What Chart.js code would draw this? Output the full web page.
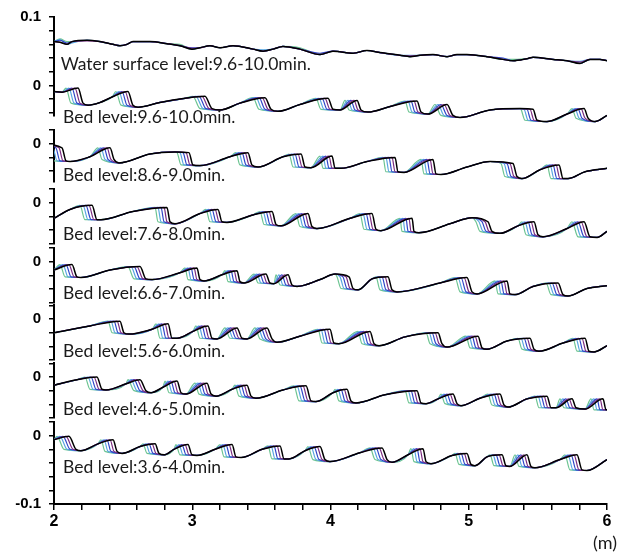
<!DOCTYPE html>
<html>
<head>
<meta charset="utf-8">
<script src="https://cdn.jsdelivr.net/npm/chart.js@4.4.1/dist/chart.umd.min.js"></script>
<style>
  html, body { margin: 0; padding: 0; background: #fff; }
  #wrap { width: 628px; height: 558px; }
</style>
</head>
<body>
<div id="wrap"><canvas id="profiles" width="628" height="558"></canvas></div>
<script>
// one line per time step, latest first: 10.0, 9.9, 9.8, 9.7, 9.6 min
const lineNames = ['t4', 't3', 't2', 't1', 't0'];
const lineColors = ['#000000', '#7a2c80', '#2f45c8', '#58a6e0', '#6cc491'];

const panelLabels = [
  'Water surface level:9.6-10.0min.',
  'Bed level:9.6-10.0min.',
  'Bed level:8.6-9.0min.',
  'Bed level:7.6-8.0min.',
  'Bed level:6.6-7.0min.',
  'Bed level:5.6-6.0min.',
  'Bed level:4.6-5.0min.',
  'Bed level:3.6-4.0min.'
];

// water surface (m)
const waterX = [2.000,2.043,2.094,2.130,2.239,2.333,2.427,2.477,2.528,2.571,2.694,2.817,2.911,2.998,3.056,3.128,3.201,3.295,3.439,3.512,3.584,3.656,3.779,3.924,4.018,4.163,4.264,4.358,4.503,4.575,4.647,4.741,4.843,4.915,4.987,5.132,5.248,5.320,5.421,5.465,5.609,5.711,5.805,5.877,5.949,6.000];
const waterY = [
  [0.064,0.063,0.060,0.064,0.066,0.064,0.060,0.058,0.060,0.064,0.064,0.061,0.058,0.053,0.055,0.058,0.055,0.058,0.053,0.050,0.053,0.057,0.053,0.045,0.050,0.047,0.051,0.048,0.044,0.042,0.044,0.045,0.042,0.045,0.045,0.042,0.038,0.036,0.039,0.041,0.038,0.036,0.032,0.038,0.038,0.036],
  [0.064,0.063,0.060,0.064,0.065,0.064,0.060,0.058,0.060,0.064,0.064,0.061,0.058,0.054,0.055,0.058,0.055,0.058,0.053,0.050,0.053,0.057,0.053,0.045,0.050,0.047,0.051,0.048,0.044,0.043,0.044,0.045,0.042,0.045,0.045,0.042,0.038,0.036,0.039,0.041,0.038,0.036,0.034,0.038,0.038,0.036],
  [0.064,0.066,0.062,0.064,0.066,0.064,0.060,0.058,0.060,0.064,0.064,0.061,0.058,0.055,0.055,0.058,0.055,0.058,0.053,0.050,0.053,0.057,0.053,0.047,0.050,0.047,0.051,0.048,0.044,0.042,0.044,0.045,0.042,0.045,0.045,0.042,0.040,0.036,0.039,0.041,0.038,0.036,0.032,0.038,0.038,0.036],
  [0.064,0.067,0.060,0.062,0.066,0.064,0.060,0.058,0.060,0.064,0.064,0.061,0.058,0.053,0.055,0.058,0.055,0.058,0.053,0.052,0.053,0.057,0.053,0.045,0.050,0.047,0.051,0.048,0.044,0.044,0.044,0.045,0.042,0.045,0.045,0.042,0.038,0.036,0.039,0.041,0.038,0.036,0.035,0.038,0.038,0.036],
  [0.064,0.068,0.064,0.064,0.066,0.064,0.060,0.058,0.060,0.064,0.064,0.061,0.060,0.053,0.055,0.058,0.055,0.058,0.053,0.050,0.053,0.057,0.055,0.045,0.050,0.047,0.051,0.048,0.044,0.042,0.044,0.045,0.042,0.045,0.045,0.042,0.038,0.038,0.039,0.041,0.038,0.036,0.032,0.038,0.038,0.036]
];

// bed level 9.6-10.0 min
const bed96Y = [-0.009,-0.010,-0.004,-0.026,-0.029,-0.025,-0.017,-0.009,-0.029,-0.032,-0.025,-0.019,-0.016,-0.034,-0.036,-0.026,-0.018,-0.035,-0.038,-0.028,-0.019,-0.035,-0.036,-0.022,-0.036,-0.039,-0.031,-0.023,-0.039,-0.042,-0.028,-0.044,-0.047,-0.036,-0.034,-0.035,-0.051,-0.053,-0.042,-0.034,-0.048,-0.053,-0.044];
const bed96X = [
  [2.000,2.058,2.174,2.210,2.246,2.333,2.420,2.535,2.571,2.608,2.767,2.948,3.092,3.143,3.201,3.345,3.526,3.570,3.620,3.779,3.982,4.018,4.069,4.192,4.221,4.271,4.430,4.626,4.655,4.705,4.843,4.886,4.937,5.154,5.371,5.465,5.494,5.566,5.711,5.834,5.863,5.913,6.000],
  [2.000,2.058,2.152,2.188,2.246,2.333,2.420,2.514,2.550,2.608,2.767,2.948,3.071,3.121,3.201,3.345,3.505,3.548,3.620,3.779,3.960,3.996,4.069,4.170,4.199,4.271,4.430,4.604,4.633,4.705,4.821,4.864,4.937,5.154,5.371,5.443,5.472,5.566,5.711,5.812,5.841,5.913,6.000],
  [2.000,2.058,2.130,2.166,2.246,2.333,2.420,2.492,2.528,2.608,2.767,2.948,3.049,3.099,3.201,3.345,3.483,3.526,3.620,3.779,3.939,3.975,4.069,4.148,4.177,4.271,4.430,4.582,4.611,4.705,4.799,4.843,4.937,5.154,5.371,5.421,5.450,5.566,5.711,5.790,5.819,5.913,6.000],
  [2.000,2.058,2.108,2.145,2.246,2.333,2.420,2.470,2.506,2.608,2.767,2.948,3.027,3.078,3.201,3.345,3.461,3.505,3.620,3.779,3.917,3.953,4.069,4.127,4.156,4.271,4.430,4.561,4.590,4.705,4.778,4.821,4.937,5.154,5.371,5.400,5.429,5.566,5.711,5.769,5.798,5.913,6.000],
  [2.000,2.058,2.087,2.123,2.246,2.333,2.420,2.448,2.485,2.608,2.767,2.948,3.005,3.056,3.201,3.345,3.439,3.483,3.620,3.779,3.895,3.931,4.069,4.105,4.134,4.271,4.430,4.539,4.568,4.705,4.756,4.799,4.937,5.154,5.371,5.378,5.407,5.566,5.711,5.747,5.776,5.913,6.000]
];

// bed level 8.6-9.0 min
const bed86Y = [-0.001,-0.006,-0.025,-0.026,-0.019,-0.006,-0.023,-0.028,-0.015,-0.012,-0.013,-0.031,-0.032,-0.019,-0.013,-0.031,-0.034,-0.019,-0.015,-0.034,-0.035,-0.018,-0.036,-0.036,-0.026,-0.020,-0.041,-0.042,-0.023,-0.044,-0.045,-0.034,-0.026,-0.029,-0.048,-0.051,-0.038,-0.031,-0.051,-0.051,-0.041,-0.036];
const bed86X = [
  [1.942,2.058,2.087,2.116,2.260,2.405,2.434,2.470,2.694,2.875,2.976,3.005,3.056,3.273,3.403,3.432,3.476,3.656,3.787,3.816,3.859,4.011,4.033,4.076,4.264,4.467,4.488,4.532,4.741,4.763,4.799,4.987,5.154,5.320,5.349,5.385,5.515,5.653,5.682,5.718,5.841,6.000],
  [1.942,2.036,2.065,2.116,2.260,2.383,2.412,2.470,2.694,2.875,2.955,2.984,3.056,3.273,3.382,3.411,3.476,3.656,3.765,3.794,3.859,3.989,4.011,4.076,4.264,4.445,4.467,4.532,4.720,4.741,4.799,4.987,5.154,5.298,5.327,5.385,5.515,5.631,5.660,5.718,5.841,6.000],
  [1.942,2.014,2.043,2.116,2.260,2.362,2.391,2.470,2.694,2.875,2.933,2.962,3.056,3.273,3.360,3.389,3.476,3.656,3.743,3.772,3.859,3.967,3.989,4.076,4.264,4.423,4.445,4.532,4.698,4.720,4.799,4.987,5.154,5.277,5.306,5.385,5.515,5.609,5.638,5.718,5.841,6.000],
  [1.942,1.993,2.022,2.116,2.260,2.340,2.369,2.470,2.694,2.875,2.911,2.940,3.056,3.273,3.338,3.367,3.476,3.656,3.722,3.750,3.859,3.946,3.967,4.076,4.264,4.401,4.423,4.532,4.676,4.698,4.799,4.987,5.154,5.255,5.284,5.385,5.515,5.588,5.617,5.718,5.841,6.000],
  [1.942,1.971,2.000,2.116,2.260,2.318,2.347,2.470,2.694,2.875,2.890,2.919,3.056,3.273,3.316,3.345,3.476,3.656,3.700,3.729,3.859,3.924,3.946,4.076,4.264,4.380,4.401,4.532,4.655,4.676,4.799,4.987,5.154,5.233,5.262,5.385,5.515,5.566,5.595,5.718,5.841,6.000]
];

// bed level 7.6-8.0 min
const bed76Y = [-0.023,-0.010,-0.004,-0.025,-0.025,-0.013,-0.007,-0.028,-0.031,-0.016,-0.010,-0.028,-0.029,-0.018,-0.013,-0.032,-0.034,-0.016,-0.035,-0.038,-0.023,-0.016,-0.039,-0.041,-0.023,-0.042,-0.044,-0.031,-0.022,-0.028,-0.042,-0.045,-0.034,-0.028,-0.047,-0.050,-0.038,-0.028,-0.050,-0.051,-0.042];
const bed76X = [
  [2.000,2.116,2.275,2.311,2.340,2.571,2.817,2.839,2.875,3.056,3.186,3.215,3.251,3.439,3.577,3.606,3.642,3.837,3.866,3.902,4.141,4.300,4.329,4.365,4.590,4.604,4.640,4.864,5.024,5.139,5.168,5.226,5.356,5.472,5.501,5.537,5.711,5.834,5.877,5.928,6.000],
  [2.000,2.116,2.253,2.289,2.340,2.571,2.796,2.817,2.875,3.056,3.165,3.194,3.251,3.439,3.555,3.584,3.642,3.816,3.844,3.902,4.141,4.279,4.307,4.365,4.568,4.582,4.640,4.864,5.024,5.118,5.146,5.226,5.356,5.450,5.479,5.537,5.711,5.812,5.855,5.928,6.000],
  [2.000,2.116,2.231,2.268,2.340,2.571,2.774,2.796,2.875,3.056,3.143,3.172,3.251,3.439,3.533,3.562,3.642,3.794,3.823,3.902,4.141,4.257,4.286,4.365,4.546,4.561,4.640,4.864,5.024,5.096,5.125,5.226,5.356,5.429,5.458,5.537,5.711,5.790,5.834,5.928,6.000],
  [2.000,2.116,2.210,2.246,2.340,2.571,2.752,2.774,2.875,3.056,3.121,3.150,3.251,3.439,3.512,3.541,3.642,3.772,3.801,3.902,4.141,4.235,4.264,4.365,4.524,4.539,4.640,4.864,5.024,5.074,5.103,5.226,5.356,5.407,5.436,5.537,5.711,5.769,5.812,5.928,6.000],
  [2.000,2.116,2.188,2.224,2.340,2.571,2.731,2.752,2.875,3.056,3.099,3.128,3.251,3.439,3.490,3.519,3.642,3.750,3.779,3.902,4.141,4.213,4.242,4.365,4.503,4.517,4.640,4.864,5.024,5.052,5.081,5.226,5.356,5.385,5.414,5.537,5.711,5.747,5.790,5.928,6.000]
];

// bed level 6.6-7.0 min
const bed66Y = [-0.012,-0.004,-0.022,-0.023,-0.012,-0.007,-0.025,-0.026,-0.016,-0.009,-0.026,-0.028,-0.019,-0.013,-0.029,-0.031,-0.018,-0.031,-0.032,-0.019,-0.034,-0.036,-0.026,-0.018,-0.022,-0.039,-0.041,-0.025,-0.022,-0.041,-0.044,-0.031,-0.023,-0.044,-0.047,-0.028,-0.047,-0.048,-0.036,-0.031,-0.048,-0.050,-0.039,-0.035];
const bed66X = [
  [2.000,2.130,2.166,2.195,2.405,2.622,2.665,2.709,2.911,3.034,3.056,3.085,3.215,3.324,3.345,3.374,3.533,3.562,3.591,3.693,3.722,3.758,3.924,4.033,4.134,4.163,4.199,4.300,4.416,4.445,4.481,4.792,4.987,5.024,5.060,5.277,5.298,5.335,5.465,5.646,5.682,5.718,5.855,6.000],
  [2.000,2.108,2.145,2.195,2.405,2.600,2.644,2.709,2.911,3.013,3.034,3.085,3.215,3.302,3.324,3.374,3.512,3.541,3.591,3.671,3.700,3.758,3.924,4.033,4.112,4.141,4.199,4.300,4.394,4.423,4.481,4.792,4.966,5.002,5.060,5.255,5.277,5.335,5.465,5.624,5.660,5.718,5.855,6.000],
  [2.000,2.087,2.123,2.195,2.405,2.579,2.622,2.709,2.911,2.991,3.013,3.085,3.215,3.280,3.302,3.374,3.490,3.519,3.591,3.649,3.678,3.758,3.924,4.033,4.090,4.119,4.199,4.300,4.373,4.401,4.481,4.792,4.944,4.980,5.060,5.233,5.255,5.335,5.465,5.602,5.638,5.718,5.855,6.000],
  [2.000,2.065,2.101,2.195,2.405,2.557,2.600,2.709,2.911,2.969,2.991,3.085,3.215,3.259,3.280,3.374,3.468,3.497,3.591,3.627,3.656,3.758,3.924,4.033,4.069,4.098,4.199,4.300,4.351,4.380,4.481,4.792,4.922,4.958,5.060,5.212,5.233,5.335,5.465,5.580,5.617,5.718,5.855,6.000],
  [2.000,2.043,2.080,2.195,2.405,2.535,2.579,2.709,2.911,2.948,2.969,3.085,3.215,3.237,3.259,3.374,3.447,3.476,3.591,3.606,3.635,3.758,3.924,4.033,4.047,4.076,4.199,4.300,4.329,4.358,4.481,4.792,4.901,4.937,5.060,5.190,5.212,5.335,5.465,5.559,5.595,5.718,5.855,6.000]
];

// bed level 5.6-6.0 min
const bed56Y = [-0.020,-0.010,-0.003,-0.020,-0.022,-0.015,-0.007,-0.028,-0.028,-0.018,-0.010,-0.028,-0.029,-0.013,-0.028,-0.029,-0.013,-0.029,-0.034,-0.025,-0.015,-0.035,-0.036,-0.018,-0.036,-0.039,-0.026,-0.020,-0.036,-0.041,-0.025,-0.042,-0.044,-0.032,-0.028,-0.044,-0.047,-0.035,-0.028,-0.047,-0.048,-0.039];
const bed56X = [
  [2.000,2.260,2.477,2.506,2.542,2.709,2.825,2.854,2.890,3.005,3.114,3.143,3.179,3.324,3.360,3.396,3.541,3.577,3.613,3.779,3.996,4.025,4.061,4.286,4.315,4.351,4.539,4.778,4.806,4.843,5.067,5.096,5.132,5.277,5.443,5.472,5.508,5.682,5.841,5.870,5.906,6.000],
  [2.000,2.260,2.456,2.485,2.542,2.709,2.803,2.832,2.890,3.005,3.092,3.121,3.179,3.302,3.338,3.396,3.519,3.555,3.613,3.779,3.975,4.004,4.061,4.264,4.293,4.351,4.539,4.756,4.785,4.843,5.045,5.074,5.132,5.277,5.421,5.450,5.508,5.682,5.819,5.848,5.906,6.000],
  [2.000,2.260,2.434,2.463,2.542,2.709,2.781,2.810,2.890,3.005,3.071,3.099,3.179,3.280,3.316,3.396,3.497,3.533,3.613,3.779,3.953,3.982,4.061,4.242,4.271,4.351,4.539,4.734,4.763,4.843,5.024,5.052,5.132,5.277,5.400,5.429,5.508,5.682,5.797,5.826,5.906,6.000],
  [2.000,2.260,2.412,2.441,2.542,2.709,2.760,2.788,2.890,3.005,3.049,3.078,3.179,3.259,3.295,3.396,3.476,3.512,3.613,3.779,3.931,3.960,4.061,4.221,4.250,4.351,4.539,4.713,4.741,4.843,5.002,5.031,5.132,5.277,5.378,5.407,5.508,5.682,5.776,5.805,5.906,6.000],
  [2.000,2.260,2.391,2.420,2.542,2.709,2.738,2.767,2.890,3.005,3.027,3.056,3.179,3.237,3.273,3.396,3.454,3.490,3.613,3.779,3.910,3.939,4.061,4.199,4.228,4.351,4.539,4.691,4.720,4.843,4.980,5.009,5.132,5.277,5.356,5.385,5.508,5.682,5.754,5.783,5.906,6.000]
];

// bed level 4.6-5.0 min
const bed46Y = [-0.012,-0.004,0.000,-0.018,-0.019,-0.010,-0.004,-0.020,-0.023,-0.015,-0.006,-0.023,-0.025,-0.009,-0.025,-0.028,-0.018,-0.012,-0.028,-0.031,-0.019,-0.013,-0.035,-0.036,-0.023,-0.018,-0.035,-0.038,-0.026,-0.020,-0.038,-0.039,-0.032,-0.025,-0.039,-0.042,-0.031,-0.025,-0.041,-0.044,-0.032,-0.028,-0.045,-0.045,-0.032,-0.045,-0.047,-0.032,-0.048,-0.048];
const bed46X = [
  [2.000,2.166,2.311,2.347,2.376,2.521,2.622,2.665,2.702,2.788,2.890,2.919,2.955,3.107,3.136,3.172,3.288,3.396,3.425,3.461,3.656,3.823,3.859,3.895,4.018,4.119,4.148,4.184,4.394,4.626,4.655,4.691,4.778,4.886,4.915,4.944,5.081,5.226,5.255,5.284,5.421,5.566,5.595,5.631,5.747,5.776,5.841,5.971,5.993,6.015],
  [2.000,2.166,2.289,2.326,2.376,2.521,2.600,2.644,2.702,2.788,2.868,2.897,2.955,3.085,3.114,3.172,3.288,3.374,3.403,3.461,3.656,3.801,3.837,3.895,4.018,4.098,4.127,4.184,4.394,4.604,4.633,4.691,4.778,4.864,4.893,4.944,5.081,5.204,5.233,5.284,5.421,5.544,5.573,5.631,5.725,5.754,5.841,5.949,5.971,6.015],
  [2.000,2.166,2.268,2.304,2.376,2.521,2.579,2.622,2.702,2.788,2.846,2.875,2.955,3.063,3.092,3.172,3.288,3.353,3.382,3.461,3.656,3.779,3.816,3.895,4.018,4.076,4.105,4.184,4.394,4.582,4.611,4.691,4.778,4.843,4.872,4.944,5.081,5.183,5.212,5.284,5.421,5.523,5.552,5.631,5.703,5.732,5.841,5.928,5.949,6.015],
  [2.000,2.166,2.246,2.282,2.376,2.521,2.557,2.600,2.702,2.788,2.825,2.854,2.955,3.042,3.071,3.172,3.288,3.331,3.360,3.461,3.656,3.758,3.794,3.895,4.018,4.054,4.083,4.184,4.394,4.561,4.590,4.691,4.778,4.821,4.850,4.944,5.081,5.161,5.190,5.284,5.421,5.501,5.530,5.631,5.682,5.711,5.841,5.906,5.928,6.015],
  [2.000,2.166,2.224,2.260,2.376,2.521,2.535,2.579,2.702,2.788,2.803,2.832,2.955,3.020,3.049,3.172,3.288,3.309,3.338,3.461,3.656,3.736,3.772,3.895,4.018,4.033,4.061,4.184,4.394,4.539,4.568,4.691,4.778,4.799,4.828,4.944,5.081,5.139,5.168,5.284,5.421,5.479,5.508,5.631,5.660,5.689,5.841,5.884,5.906,6.015]
];

// bed level 3.6-4.0 min
const bed36Y = [-0.006,-0.001,-0.020,-0.022,-0.012,-0.006,-0.023,-0.026,-0.016,-0.012,-0.026,-0.028,-0.020,-0.013,-0.028,-0.029,-0.020,-0.013,-0.031,-0.032,-0.020,-0.015,-0.034,-0.034,-0.022,-0.016,-0.035,-0.038,-0.025,-0.018,-0.035,-0.039,-0.028,-0.019,-0.038,-0.041,-0.029,-0.026,-0.042,-0.044,-0.031,-0.028,-0.044,-0.045,-0.028,-0.045,-0.047,-0.035,-0.028,-0.050,-0.051,-0.035];
const bed36X = [
  [2.000,2.108,2.159,2.195,2.318,2.427,2.456,2.492,2.622,2.731,2.760,2.796,2.868,2.969,2.998,3.034,3.165,3.288,3.316,3.353,3.505,3.635,3.664,3.700,3.816,3.924,3.960,3.996,4.213,4.373,4.409,4.445,4.561,4.669,4.691,4.727,4.879,4.987,5.016,5.045,5.132,5.241,5.269,5.298,5.421,5.450,5.479,5.660,5.783,5.819,5.855,6.000],
  [2.000,2.087,2.137,2.195,2.318,2.405,2.434,2.492,2.622,2.709,2.738,2.796,2.868,2.948,2.976,3.034,3.165,3.266,3.295,3.353,3.505,3.613,3.642,3.700,3.816,3.902,3.939,3.996,4.213,4.351,4.387,4.445,4.561,4.647,4.669,4.727,4.879,4.966,4.995,5.045,5.132,5.219,5.248,5.298,5.400,5.429,5.479,5.660,5.761,5.797,5.855,6.000],
  [2.000,2.065,2.116,2.195,2.318,2.383,2.412,2.492,2.622,2.687,2.716,2.796,2.868,2.926,2.955,3.034,3.165,3.244,3.273,3.353,3.505,3.591,3.620,3.700,3.816,3.881,3.917,3.996,4.213,4.329,4.365,4.445,4.561,4.626,4.647,4.727,4.879,4.944,4.973,5.045,5.132,5.197,5.226,5.298,5.378,5.407,5.479,5.660,5.740,5.776,5.855,6.000],
  [2.000,2.043,2.094,2.195,2.318,2.362,2.391,2.492,2.622,2.665,2.694,2.796,2.868,2.904,2.933,3.034,3.165,3.222,3.251,3.353,3.505,3.570,3.599,3.700,3.816,3.859,3.895,3.996,4.213,4.307,4.344,4.445,4.561,4.604,4.626,4.727,4.879,4.922,4.951,5.045,5.132,5.175,5.204,5.298,5.356,5.385,5.479,5.660,5.718,5.754,5.855,6.000],
  [2.000,2.022,2.072,2.195,2.318,2.340,2.369,2.492,2.622,2.644,2.673,2.796,2.868,2.882,2.911,3.034,3.165,3.201,3.230,3.353,3.505,3.548,3.577,3.700,3.816,3.837,3.873,3.996,4.213,4.286,4.322,4.445,4.561,4.582,4.604,4.727,4.879,4.901,4.929,5.045,5.132,5.154,5.183,5.298,5.335,5.363,5.479,5.660,5.696,5.732,5.855,6.000]
];

// ---- build datasets ----
const datasets = [];
function addProfile(name, xsFor, ysFor, axisId) {
  lineNames.forEach((t, k) => {
    const xs = xsFor(k), ys = ysFor(k);
    datasets.push({
      label: name + ' ' + t,
      data: xs.map((x, i) => ({ x: x, y: ys[i] })),
      yAxisID: axisId,
      borderColor: lineColors[k],
      borderWidth: k === 0 ? 1.5 : 1.2,
      pointRadius: 0,
      cubicInterpolationMode: 'monotone',
      fill: false,
      // panels share one plot area; only clip at the left/right ends
      clip: { left: 0, right: 0, top: 40, bottom: 40 },
      order: k
    });
  });
}
addProfile('water', k => waterX, k => waterY[k], 'yA');
addProfile('bed96', k => bed96X[k], k => bed96Y, 'yA');
addProfile('bed86', k => bed86X[k], k => bed86Y, 'yB');
addProfile('bed76', k => bed76X[k], k => bed76Y, 'yC');
addProfile('bed66', k => bed66X[k], k => bed66Y, 'yD');
addProfile('bed56', k => bed56X[k], k => bed56Y, 'yE');
addProfile('bed46', k => bed46X[k], k => bed46Y, 'yF');
addProfile('bed36', k => bed36X[k], k => bed36Y, 'yG');

// ---- axes ----
const tickFont = { family: "'Liberation Sans', Arial, sans-serif", size: 15, weight: 'bold' };
const fixWidth = s => { s.width = 54; };

function panelAxis(min, max, weight) {
  return {
    type: 'linear', position: 'left', stack: 'left', stackWeight: max - min, weight: weight,
    min: min, max: max,
    border: { display: true, color: '#000', width: 2 },
    grid: { display: true, drawOnChartArea: false, drawTicks: true, tickLength: 5, color: '#000', lineWidth: 1.5 },
    ticks: {
      stepSize: 0.02, includeBounds: false, autoSkip: false, padding: 8, color: '#000', font: tickFont,
      callback: v => Math.abs(v) < 1e-9 ? '0' : Math.abs(v - 0.1) < 1e-9 ? '0.1' : Math.abs(v + 0.1) < 1e-9 ? '-0.1' : ''
    },
    afterFit: fixWidth
  };
}
function gapAxis(size, weight) {
  return {
    type: 'linear', position: 'left', stack: 'left', stackWeight: size, weight: weight,
    min: 0, max: 1, display: true,
    border: { display: false }, grid: { display: false }, ticks: { display: false },
    afterFit: fixWidth
  };
}

// panel labels drawn in data coordinates of each panel
const labelPlugin = {
  id: 'panelLabels',
  afterDatasetsDraw(chart) {
    const ctx = chart.ctx, xs = chart.scales.x;
    const axes = ['yA', 'yA', 'yB', 'yC', 'yD', 'yE', 'yF', 'yG'];
    ctx.save();
    ctx.fillStyle = '#1a1a1a';
    ctx.font = "17.5px Lato, 'Open Sans', sans-serif";
    ctx.textBaseline = 'alphabetic';
    ctx.textAlign = 'left';
    panelLabels.forEach((t, i) => {
      const ys = chart.scales[axes[i]];
      const x = xs.getPixelForValue(i === 0 ? 2.048 : 2.065);
      const y = ys.getPixelForValue(i === 0 ? 0.022 : -0.055);
      ctx.fillText(t, x, y);
    });
    ctx.font = "18px Lato, 'Open Sans', sans-serif";
    ctx.textAlign = 'right';
    ctx.fillText('(m)', xs.right + 10, chart.height - 9);
    ctx.restore();
  }
};

new Chart(document.getElementById('profiles'), {
  type: 'line',
  data: { datasets: datasets },
  options: {
    responsive: false,
    animation: false,
    devicePixelRatio: 1,
    layout: { padding: { top: 15, right: 21, bottom: 0, left: 0 } },
    plugins: { legend: { display: false }, tooltip: { enabled: false }, title: { display: false } },
    scales: {
      x: {
        type: 'linear', position: 'bottom', min: 2, max: 6,
        border: { display: true, color: '#000', width: 2 },
        grid: { display: true, drawOnChartArea: false, drawTicks: true, tickLength: 6, color: '#000', lineWidth: 1.5 },
        ticks: {
          stepSize: 0.2, autoSkip: false, maxRotation: 0, padding: 2, color: '#000',
          font: { family: "'Liberation Sans', Arial, sans-serif", size: 16, weight: 'bold' },
          callback: v => Math.abs(v - Math.round(v)) < 1e-6 ? String(Math.round(v)) : ''
        },
        afterFit: s => { s.height = 54; }
      },
      yA: panelAxis(-0.045, 0.1, 13),
      g1: gapAxis(0.0204, 12),
      yB: panelAxis(-0.055, 0.02, 11),
      g2: gapAxis(0.0111, 10),
      yC: panelAxis(-0.06, 0.02, 9),
      g3: gapAxis(0.0066, 8),
      yD: panelAxis(-0.06, 0.02, 7),
      g4: gapAxis(0.0038, 6),
      yE: panelAxis(-0.06, 0.02, 5),
      g5: gapAxis(0.0047, 4),
      yF: panelAxis(-0.06, 0.02, 3),
      g6: gapAxis(0.0058, 2),
      yG: panelAxis(-0.1, 0.02, 1)
    }
  },
  plugins: [labelPlugin]
});
</script>
</body>
</html>
